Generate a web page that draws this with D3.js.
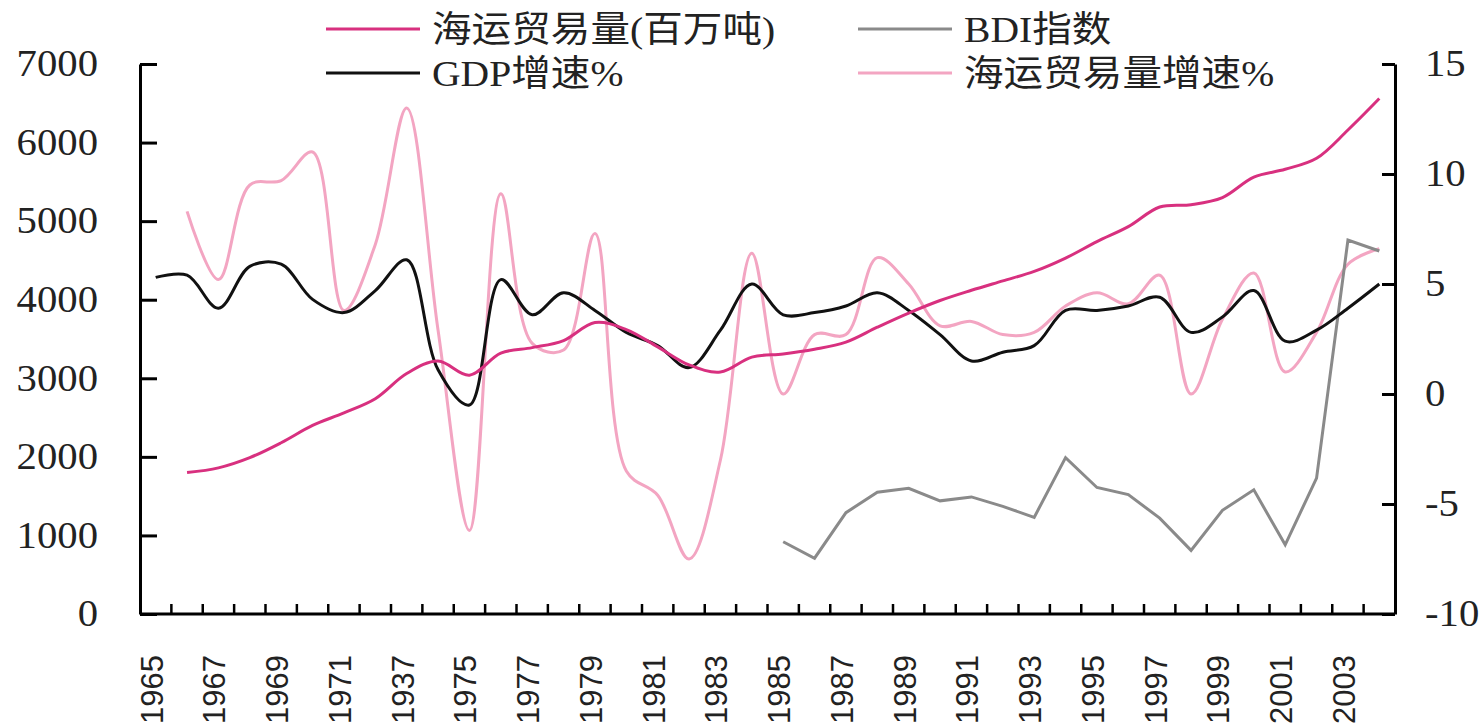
<!DOCTYPE html>
<html>
<head>
<meta charset="utf-8">
<script src="https://cdn.jsdelivr.net/npm/d3@7"></script>
<style>
  body { margin: 0; background: #fff; }
  svg { display: block; }
</style>
</head>
<body>
<div id="chart"></div>
<script>
// categories (the 1973 label really reads "1937" in the source)
const years = [1965, 1966, 1967, 1968, 1969, 1970, 1971, 1972, 1973, 1974,
    1975, 1976, 1977, 1978, 1979, 1980, 1981, 1982, 1983, 1984,
    1985, 1986, 1987, 1988, 1989, 1990, 1991, 1992, 1993, 1994,
    1995, 1996, 1997, 1998, 1999, 2000, 2001, 2002, 2003, 2004];
const yearLabels = ["1965", "1967", "1969", "1971", "1937", "1975", "1977", "1979", "1981", "1983",
    "1985", "1987", "1989", "1991", "1993", "1995", "1997", "1999", "2001", "2003"];

// left axis series
const tradeVolume = [null, 1800, 1860, 1990, 2180, 2400, 2560, 2740, 3060, 3220,
    3040, 3320, 3390, 3480, 3710, 3620, 3400, 3170, 3080, 3270,
    3310, 3370, 3460, 3650, 3830, 3990, 4120, 4240, 4360, 4530,
    4740, 4930, 5180, 5210, 5300, 5560, 5660, 5800, 6160, 6560];
const bdi = [null, null, null, null, null, null, null, null, null, null,
    null, null, null, null, null, null, null, null, null, null,
    920, 710, 1290, 1550, 1600, 1440, 1490, 1370, 1230, 1990,
    1610, 1520, 1220, 810, 1320, 1580, 880, 1730, 4760, 4620];

// right axis series
const gdpGrowth = [5.3, 5.4, 3.9, 5.8, 5.9, 4.3, 3.7, 4.7, 6.1, 1.1,
    -0.5, 5.2, 3.6, 4.6, 3.8, 2.8, 2.2, 1.2, 2.9, 5.0,
    3.6, 3.7, 4.0, 4.6, 3.8, 2.7, 1.5, 1.9, 2.2, 3.8,
    3.8, 4.0, 4.4, 2.8, 3.5, 4.7, 2.4, 2.9, 3.9, 5.0];
const tradeGrowth = [null, 8.3, 5.2, 9.5, 9.7, 11.0, 3.8, 6.8, 13.0, 2.9,
    -6.2, 9.1, 2.3, 2.0, 7.3, -3.5, -4.6, -7.5, -3.0, 6.4,
    0.0, 2.7, 2.7, 6.2, 5.0, 3.1, 3.3, 2.7, 2.8, 4.0,
    4.6, 4.1, 5.4, 0.0, 3.4, 5.5, 1.0, 2.8, 5.9, 6.6];

const leftTicks = [0, 1000, 2000, 3000, 4000, 5000, 6000, 7000];
const rightTicks = [-10, -5, 0, 5, 10, 15];

const legendItems = [
    { name: "海运贸易量(百万吨)", color: "#d8307f", col: 0, row: 0 },
    { name: "BDI指数", color: "#8a8a8a", col: 1, row: 0 },
    { name: "GDP增速%", color: "#111111", col: 0, row: 1 },
    { name: "海运贸易量增速%", color: "#f3a5c2", col: 1, row: 1 }
];

const width = 1483, height = 728;
const serif = "'Liberation Serif', 'Times New Roman', 'Noto Sans CJK SC', serif";
const sans = "'Liberation Sans', Arial, sans-serif";

const svg = d3.select("#chart")
    .append("svg")
    .attr("width", width)
    .attr("height", height);

const x = d3.scaleBand().domain(years).range([140, 1395]).padding(0);
const yL = d3.scaleLinear().domain([0, 7000]).range([614, 64]);
const yR = d3.scaleLinear().domain([-10, 15]).range([614, 64]);
const cx = (d) => x(d) + x.bandwidth() / 2;

// widen text a little, the source picture is stretched sideways
function stretch(sel, k) {
    sel.each(function () {
        const w = this.getComputedTextLength();
        d3.select(this).attr("textLength", w * k).attr("lengthAdjust", "spacingAndGlyphs");
    });
}

// left axis
const leftAxis = svg.append("g")
    .attr("transform", "translate(140,0)")
    .call(d3.axisLeft(yL).tickValues(leftTicks).tickFormat((d) => String(d))
        .tickSize(-17).tickPadding(42).tickSizeOuter(0));
leftAxis.select(".domain").attr("stroke", "#000").attr("stroke-width", 3);
leftAxis.selectAll(".tick line").attr("stroke", "#000").attr("stroke-width", 3);
leftAxis.selectAll(".tick text")
    .attr("font-family", serif).attr("font-size", 37).attr("fill", "#222")
    .call(stretch, 1.1);

// right axis
const rightAxis = svg.append("g")
    .attr("transform", "translate(1395,0)")
    .call(d3.axisRight(yR).tickValues(rightTicks).tickFormat((d) => String(d))
        .tickSize(-13).tickPadding(30).tickSizeOuter(0));
rightAxis.select(".domain").attr("stroke", "#000").attr("stroke-width", 3);
rightAxis.selectAll(".tick line").attr("stroke", "#000").attr("stroke-width", 3);
rightAxis.selectAll(".tick text")
    .attr("font-family", serif).attr("font-size", 37).attr("fill", "#222")
    .call(stretch, 1.1);

// bottom axis line with ticks on the band borders
svg.append("line")
    .attr("x1", 140).attr("x2", 1395)
    .attr("y1", yL(0)).attr("y2", yL(0))
    .attr("stroke", "#000").attr("stroke-width", 3);

svg.append("g")
    .selectAll("line")
    .data(years.slice(1))
    .enter()
    .append("line")
    .attr("x1", (d) => x(d))
    .attr("x2", (d) => x(d))
    .attr("y1", yL(0))
    .attr("y2", yL(0) - 10)
    .attr("stroke", "#000")
    .attr("stroke-width", 2.5);

svg.append("g")
    .selectAll("text")
    .data(yearLabels)
    .enter()
    .append("text")
    .attr("transform", (d, i) => "translate(" + (cx(years[i * 2]) - 4) + ",655) rotate(-90)")
    .attr("text-anchor", "end")
    .attr("dy", "0.35em")
    .attr("font-family", sans)
    .attr("font-size", 31)
    .attr("fill", "#222")
    .text((d) => d);

// series
const smooth = (scale) => d3.line()
    .defined((d) => d[1] !== null)
    .x((d) => cx(d[0]))
    .y((d) => scale(d[1]))
    .curve(d3.curveCatmullRom.alpha(0.5));

const straight = (scale) => d3.line()
    .defined((d) => d[1] !== null)
    .x((d) => cx(d[0]))
    .y((d) => scale(d[1]));

const pairs = (arr) => years.map((yr, i) => [yr, arr[i]]);

svg.append("path")
    .attr("d", smooth(yR)(pairs(tradeGrowth)))
    .attr("fill", "none")
    .attr("stroke", legendItems[3].color)
    .attr("stroke-width", 3);

svg.append("path")
    .attr("d", straight(yL)(pairs(bdi)))
    .attr("fill", "none")
    .attr("stroke", legendItems[1].color)
    .attr("stroke-width", 3);

svg.append("path")
    .attr("d", smooth(yR)(pairs(gdpGrowth)))
    .attr("fill", "none")
    .attr("stroke", legendItems[2].color)
    .attr("stroke-width", 3);

svg.append("path")
    .attr("d", smooth(yL)(pairs(tradeVolume)))
    .attr("fill", "none")
    .attr("stroke", legendItems[0].color)
    .attr("stroke-width", 3);

// legend
const legend = svg.append("g");
const colX = [326, 858];
const rowY = [29, 73];

legend.selectAll("line")
    .data(legendItems)
    .enter()
    .append("line")
    .attr("x1", (d) => colX[d.col])
    .attr("x2", (d) => colX[d.col] + 94)
    .attr("y1", (d) => rowY[d.row])
    .attr("y2", (d) => rowY[d.row])
    .attr("stroke", (d) => d.color)
    .attr("stroke-width", 3);

legend.selectAll("text")
    .data(legendItems)
    .enter()
    .append("text")
    .attr("x", (d) => colX[d.col] + 106)
    .attr("y", (d) => rowY[d.row])
    .attr("dy", "0.35em")
    .attr("font-family", serif)
    .attr("font-size", 36)
    .attr("fill", "#222")
    .text((d) => d.name)
    .call(stretch, 1.1);
</script>
</body>
</html>
